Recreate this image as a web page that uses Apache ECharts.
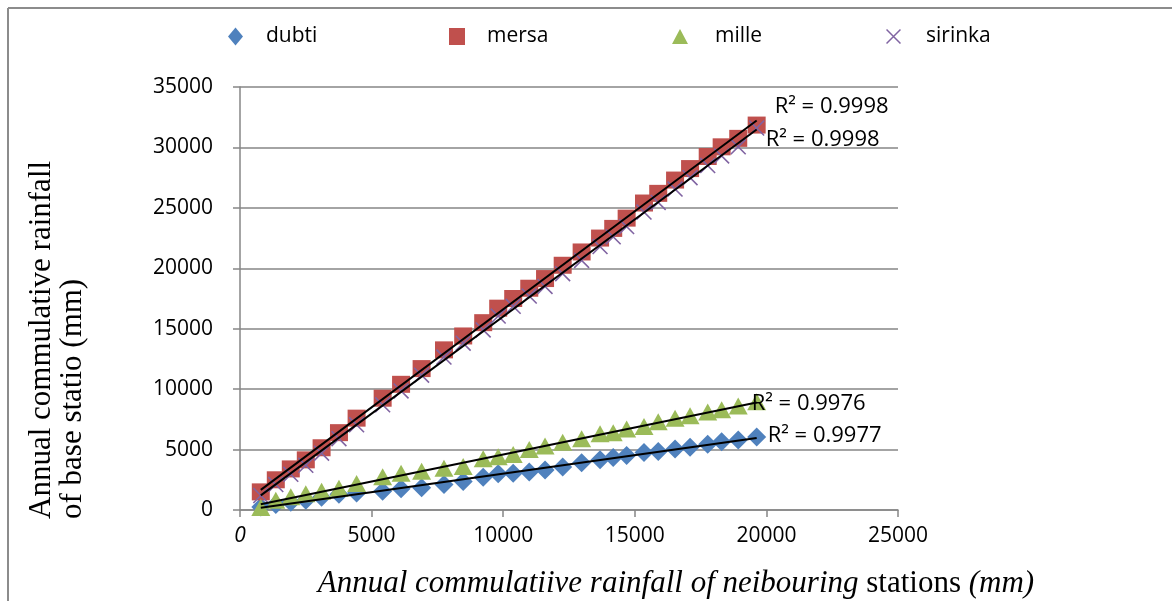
<!DOCTYPE html>
<html><head><meta charset="utf-8">
<script src="https://cdn.jsdelivr.net/npm/echarts@6/dist/echarts.min.js"></script>
<style>html,body{margin:0;padding:0;background:#fff}#c{width:1172px;height:601px}</style>
</head><body><div id="c"></div>
<script>
// Annual cumulative rainfall of neighbouring stations (x, mm)
const xValues = [790, 1360, 1930, 2500, 3100, 3760, 4430, 5420, 6120, 6900, 7750, 8480, 9240, 9810, 10380, 10990, 11590, 12260, 12980, 13680, 14180, 14690, 15350, 15890, 16530, 17100, 17770, 18300, 18930, 19630];
// Annual cumulative rainfall of base stations (y, mm)
const dubti   = [250, 450, 650, 800, 1050, 1300, 1400, 1550, 1750, 1850, 2100, 2350, 2700, 3000, 3050, 3150, 3300, 3550, 3900, 4150, 4350, 4500, 4750, 4850, 5050, 5200, 5450, 5650, 5800, 6050];
const mersa   = [1500, 2500, 3400, 4150, 5150, 6400, 7600, 9250, 10400, 11700, 13250, 14400, 15500, 16700, 17500, 18350, 19150, 20250, 21350, 22500, 23300, 24150, 25400, 26200, 27300, 28250, 29250, 30050, 30750, 31850];
const mille   = [200, 800, 1100, 1350, 1550, 1800, 2200, 2750, 3050, 3200, 3450, 3600, 4250, 4400, 4600, 5000, 5300, 5600, 5900, 6300, 6400, 6700, 6900, 7300, 7600, 7800, 8100, 8300, 8600, 8950];
const sirinka = [1200, 2100, 2950, 3700, 4700, 5900, 7050, 8700, 9850, 11150, 12650, 13800, 14900, 16050, 16850, 17700, 18500, 19550, 20650, 21800, 22600, 23450, 24650, 25450, 26550, 27500, 28500, 29300, 30050, 31600];

const seriesNames = ['dubti', 'mersa', 'mille', 'sirinka'];
const r2Labels = ['R² = 0.9977', 'R² = 0.9998', 'R² = 0.9976', 'R² = 0.9998'];
const xAxisTicks = [0, 5000, 10000, 15000, 20000, 25000];
const yAxisTicks = [0, 5000, 10000, 15000, 20000, 25000, 30000, 35000];
const yTitleLines = ['Annual commulative rainfall', 'of base statio (mm)'];
const xTitleParts = ['Annual commulatiive rainfall of neibouring ', 'stations ', '(mm)'];

const colors = ['#4F81BD', '#C0504D', '#9BBB59', '#8064A2'];
const symbols = ['diamond', 'rect', 'triangle',
  'path://M0,1.4L1.4,0L20,18.6L18.6,20Z M18.6,0L20,1.4L1.4,20L0,18.6Z'];
const symbolSizes = [[19, 19], [18, 17], [19, 17], [16, 16]];
const allY = [dubti, mersa, mille, sirinka];
const labelOffsets = [[11, -2], [18, -14], [-5, 1], [9, 10]];

function pairs(ys) { return xValues.map((x, i) => [x, ys[i]]); }
function fitLine(ys) {
  const n = xValues.length;
  let sx = 0, sy = 0, sxx = 0, sxy = 0;
  for (let i = 0; i < n; i++) { const x = xValues[i], y = ys[i]; sx += x; sy += y; sxx += x * x; sxy += x * y; }
  const b = (n * sxy - sx * sy) / (n * sxx - sx * sx);
  const a = (sy - b * sx) / n;
  const x0 = Math.min(...xValues), x1 = Math.max(...xValues);
  return [[x0, a + b * x0], [x1, a + b * x1]];
}

const tickFont = '"Open Sans", "Noto Sans", sans-serif';
const series = [];
seriesNames.forEach((name, i) => {
  series.push({
    name, type: 'scatter', data: pairs(allY[i]),
    symbol: symbols[i], symbolSize: symbolSizes[i],
    itemStyle: { color: colors[i], opacity: 1 }, z: 2 + i
  });
});
seriesNames.forEach((name, i) => {
  series.push({
    name: name + ' trend', type: 'line', data: fitLine(allY[i]),
    showSymbol: false, symbol: 'none', silent: true,
    lineStyle: { color: '#000', width: 2 }, z: 10,
    endLabel: {
      show: true, formatter: r2Labels[i], distance: 0, offset: labelOffsets[i],
      fontFamily: tickFont, fontSize: 22, color: '#000'
    }
  });
});

const legendLefts = [228, 449, 672, 886];
const legendPads = [18, 17, 22, 20];
const legendIconSize = [[15, 18], [16, 17], [16, 15], [15, 15]];
const legends = seriesNames.map((name, i) => ({
  data: [name], left: legendLefts[i], top: 26, padding: 0,
  itemWidth: legendIconSize[i][0], itemHeight: legendIconSize[i][1],
  textStyle: { fontFamily: tickFont, fontSize: 21, color: '#000', padding: [0, 0, 0, legendPads[i]] },
  selectedMode: false
}));

const chart = echarts.init(document.getElementById('c'), null, { renderer: 'canvas' });
chart.setOption({
  animation: false,
  backgroundColor: '#fff',
  legend: legends,
  grid: { left: 240, top: 87, width: 658, height: 423, containLabel: false },
  xAxis: {
    type: 'value', min: xAxisTicks[0], max: xAxisTicks[xAxisTicks.length - 1], interval: xAxisTicks[1] - xAxisTicks[0],
    axisLine: { show: true, lineStyle: { color: '#868686', width: 1.5 } },
    axisTick: { show: true, length: 7, lineStyle: { color: '#868686', width: 1.5 } },
    splitLine: { show: false },
    axisLabel: {
      margin: 16, fontFamily: tickFont, fontSize: 21, color: '#000',
      formatter: v => v === 0 ? '{it|0}' : String(v),
      rich: { it: { fontStyle: 'italic', fontFamily: tickFont, fontSize: 21, color: '#000' } }
    }
  },
  yAxis: {
    type: 'value', min: yAxisTicks[0], max: yAxisTicks[yAxisTicks.length - 1], interval: yAxisTicks[1] - yAxisTicks[0],
    axisLine: { show: true, lineStyle: { color: '#868686', width: 1.5 } },
    axisTick: { show: true, length: 7, lineStyle: { color: '#868686', width: 1.5 } },
    splitLine: { show: true, lineStyle: { color: '#868686', width: 1.5 } },
    axisLabel: { margin: 27, fontFamily: tickFont, fontSize: 21, color: '#000', formatter: v => String(v) }
  },
  graphic: [
    { type: 'line', shape: { x1: 8, y1: 8, x2: 8, y2: 601 }, style: { stroke: '#8c8c8c', lineWidth: 2 } },
    { type: 'line', shape: { x1: 8, y1: 8, x2: 1172, y2: 8 }, style: { stroke: '#8c8c8c', lineWidth: 2 } },
    {
      type: 'text', x: 26, y: 519, rotation: Math.PI / 2,
      style: {
        text: yTitleLines.join('\n'), font: '31px "Liberation Serif", "Times New Roman", serif',
        fill: '#000', textAlign: 'left', textVerticalAlign: 'top', lineHeight: 31
      }
    },
    {
      type: 'text', x: 676, y: 584,
      style: {
        text: '{i|' + xTitleParts[0] + '}{n|' + xTitleParts[1] + '}{i|' + xTitleParts[2] + '}',
        textAlign: 'center', textVerticalAlign: 'middle', fill: '#000',
        rich: {
          i: { fontFamily: '"Liberation Serif", serif', fontStyle: 'italic', fontSize: 31, fill: '#000' },
          n: { fontFamily: '"Liberation Serif", serif', fontSize: 31, fill: '#000' }
        }
      }
    }
  ],
  series
});
</script>
</body></html>
